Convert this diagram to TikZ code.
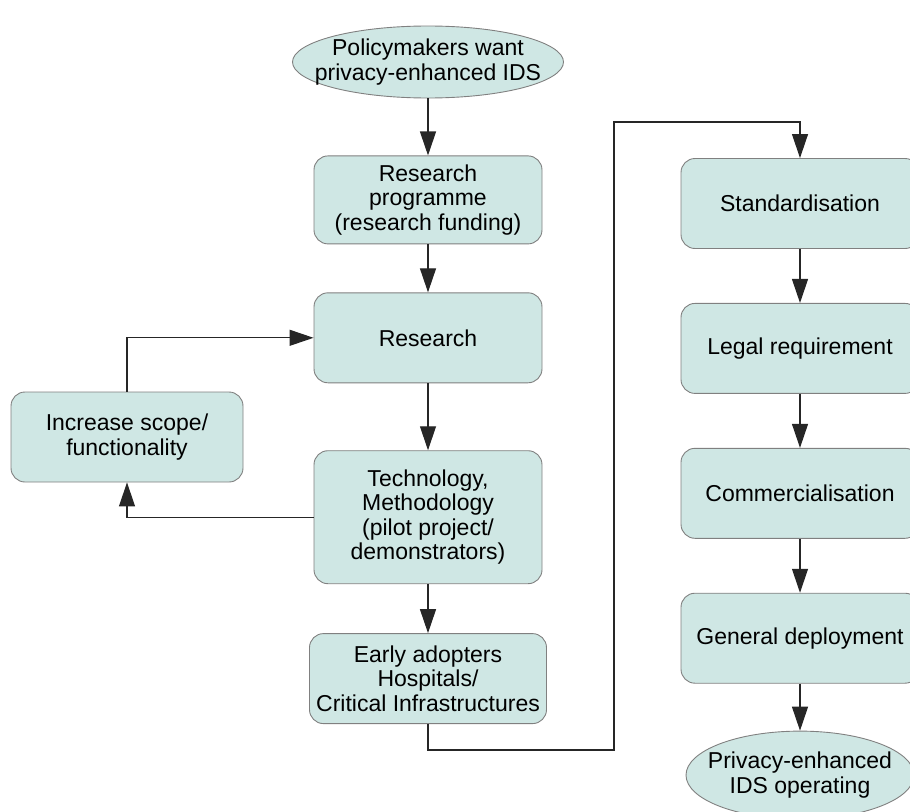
\documentclass[tikz,border=0pt]{standalone}
\usepackage{fontspec}
\setmainfont{Liberation Sans}
\usetikzlibrary{arrows.meta,positioning,shapes.geometric}
\definecolor{boxfill}{RGB}{207,231,228}
\definecolor{boxline}{RGB}{128,128,128}

\begin{document}
\begin{tikzpicture}[
  x=1pt, y=-1pt,
  font=\fontsize{23}{24.5}\selectfont,
  >={Triangle[length=24pt,width=16pt]},
  stage/.style={
    rectangle,
    draw=boxline,
    line width=0.9pt,
    rounded corners=14pt,
    align=center,
    minimum height=90pt,
    minimum width=228pt,
    inner xsep=6pt,
    inner ysep=5pt,
    fill=boxfill
  },
  wide/.style={
    stage,
    minimum width=238pt
  },
  terminal/.style={
    ellipse,
    draw=boxline,
    line width=0.9pt,
    fill=boxfill,
    inner sep=0pt
  },
  flow/.style={->, line width=1.2pt, draw=black!85}
]
\useasboundingbox (0,0) rectangle (910,811);
\clip (0,0) rectangle (910,811);

\node[terminal, minimum width=271pt, minimum height=72pt,
  label={[align=center]center:Policymakers want\\privacy-enhanced IDS}] (want) at (428,62) {};
\node[stage, minimum height=88pt, below=57pt of want] (prog) {Research\\programme\\(research funding)};
\node[stage, below=48pt of prog] (research) {Research};
\node[stage, minimum height=133pt, below=67pt of research] (tech) {Technology,\\Methodology\\(pilot project/\\demonstrators)};
\node[stage, minimum width=237pt, below=49pt of tech] (early) {Early adopters\\Hospitals/\\Critical Infrastructures};
\node[stage, minimum width=232pt] (scope) at (127,437) {Increase scope/\\functionality};

\node[wide] (std) at (800,203.5) {Standardisation};
\node[wide, below=54pt of std] (legal) {Legal requirement};
\node[wide, below=54pt of legal] (comm) {Commercialisation};
\node[wide, below=54pt of comm] (deploy) {General deployment};
\node[terminal, minimum width=228pt, minimum height=88pt, below=47pt of deploy,
  label={[align=center]center:Privacy-enhanced\\IDS operating}] (operating) {};

\coordinate (bend) at (614,122);

\draw[flow] (want) -- (prog);
\draw[flow] (prog) -- (research);
\draw[flow] (research) -- (tech);
\draw[flow] (tech) -- (early);
\draw[flow] (tech.west) -| (scope.south);
\draw[flow] (scope.north) |- (research.west);
\draw[flow] (early.south) -- ++(0,26) -| (bend) -| (std.north);
\draw[flow] (std) -- (legal);
\draw[flow] (legal) -- (comm);
\draw[flow] (comm) -- (deploy);
\draw[flow] (deploy) -- (operating);

\end{tikzpicture}
\end{document}
